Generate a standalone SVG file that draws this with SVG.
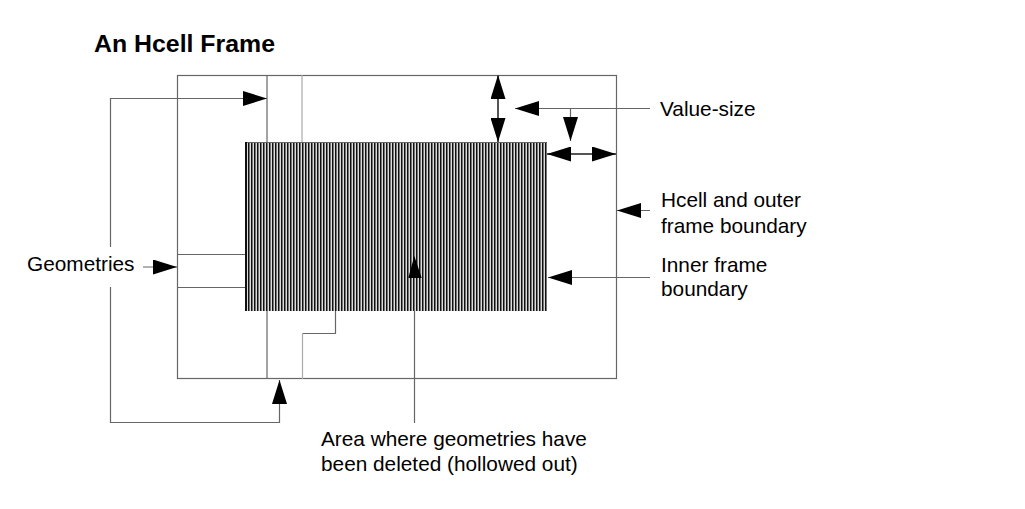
<svg xmlns="http://www.w3.org/2000/svg" width="1025" height="509" viewBox="0 0 1025 509">
<style>
  .t { font-family: "Liberation Sans", Arial, sans-serif; font-size: 20.8px; fill: #000; }
  .title { font-family: "Liberation Sans", Arial, sans-serif; font-size: 24px; font-weight: bold; fill: #000; }
  .fr { fill: none; stroke: #666; stroke-width: 1.2; }
  .lt { fill: none; stroke: #aaa; stroke-width: 1.2; }
  .cn { fill: none; stroke: #666; stroke-width: 1.2; }
  .cn2 { fill: none; stroke: #555; stroke-width: 2; }
  .a { marker-end: url(#ah); }
  .aa { marker-start: url(#ah); marker-end: url(#ah); }
</style>
<defs>
  <marker id="ah" markerUnits="userSpaceOnUse" markerWidth="24" markerHeight="15" refX="24" refY="7.5" orient="auto-start-reverse">
    <path d="M0,0 L24,7.5 L0,15 z" fill="#000"/>
  </marker>
  <pattern id="hatch" patternUnits="userSpaceOnUse" x="245" y="0" width="3" height="10">
    <rect width="3" height="10" fill="#dcdcdc"/>
    <rect width="1.5" height="10" fill="#111"/>
  </pattern>
</defs>
<rect width="1025" height="509" fill="#fff"/>
<text class="title" x="94" y="52" textLength="181" lengthAdjust="spacingAndGlyphs">An Hcell Frame</text>

<g id="frame">
  <rect class="fr" x="177.5" y="75.5" width="439" height="303"/>
  <line class="fr" x1="267" y1="75" x2="267" y2="142"/>
  <line class="lt" x1="302" y1="75" x2="302" y2="142"/>
  <line class="fr" x1="177" y1="254.5" x2="245" y2="254.5"/>
  <line class="fr" x1="177" y1="287.5" x2="245" y2="287.5"/>
  <line class="fr" x1="267" y1="311" x2="267" y2="379"/>
  <polyline class="fr" points="335.5,311 335.5,333.5 302.5,333.5"/>
  <line class="lt" x1="302.5" y1="333.5" x2="302.5" y2="379"/>
</g>

<g id="inner">
  <rect x="245" y="142" width="302" height="169" fill="url(#hatch)"/>
  <line x1="245" y1="142.5" x2="547" y2="142.5" stroke="#666" stroke-width="1"/>
  <line x1="246" y1="142" x2="246" y2="311" stroke="#111" stroke-width="2"/>
  <polygon points="414.3,256 408.3,278 421.7,278" fill="#000"/>
</g>

<g id="connectors">
  <polyline class="cn a" points="110.5,247 110.5,98.5 267,98.5"/>
  <polyline class="cn a" points="110.5,287 110.5,422.5 279.5,422.5 279.5,380"/>
  <line class="cn a" x1="143" y1="267" x2="177" y2="267"/>
  <line class="cn a" x1="650" y1="108.5" x2="515" y2="108.5"/>
  <line class="cn a" x1="570.5" y1="108.5" x2="570.5" y2="141"/>
  <line class="cn2 aa" x1="498" y1="75" x2="498" y2="142"/>
  <line class="cn2 aa" x1="547" y1="154" x2="616" y2="154"/>
  <line class="cn a" x1="650" y1="210.5" x2="617" y2="210.5"/>
  <line class="cn a" x1="650" y1="277.5" x2="548" y2="277.5"/>
  <line class="cn" x1="414.5" y1="311" x2="414.5" y2="423"/>
</g>

<g id="labels">
  <text class="t" x="27" y="271">Geometries</text>
  <text class="t" x="660" y="116">Value-size</text>
  <text class="t" x="661" y="207">Hcell and outer</text>
  <text class="t" x="661" y="233">frame boundary</text>
  <text class="t" x="661" y="272">Inner frame</text>
  <text class="t" x="661" y="296">boundary</text>
  <text class="t" x="321" y="446">Area where geometries have</text>
  <text class="t" x="321" y="471">been deleted (hollowed out)</text>
</g>
</svg>
